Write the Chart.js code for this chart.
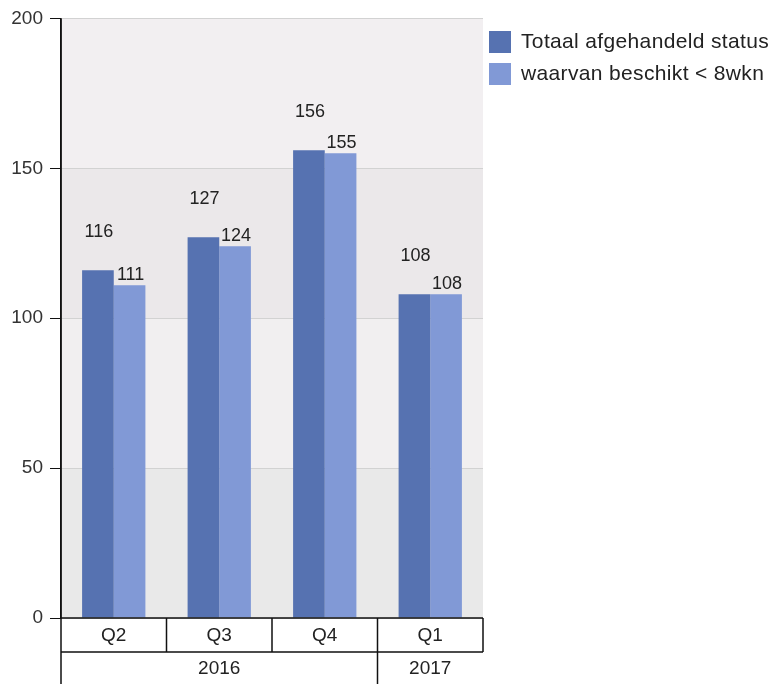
<!DOCTYPE html>
<html>
<head>
<meta charset="utf-8">
<script src="https://cdn.jsdelivr.net/npm/chart.js@4"></script>
<style>
  html, body { margin: 0; padding: 0; background: #fff; }
  #wrap { width: 773px; height: 684px; }
</style>
</head>
<body>
<div id="wrap"><canvas id="chart" width="773" height="684"></canvas></div>
<script>
// data
const quarters = ['Q2', 'Q3', 'Q4', 'Q1'];
const years = ['2016', '2016', '2016', '2017'];
const totaal = [116, 127, 156, 108];
const binnen8wkn = [111, 124, 155, 108];
const yTicks = [0, 50, 100, 150, 200];
const seriesNames = ['Totaal afgehandeld status', 'waarvan beschikt < 8wkn'];

const colors = ['#5672b1', '#8199d6'];
const bandColors = ['#e9e9e9', '#f1eff0', '#ebe8ea', '#f2eff1'];
const FONT = '"Liberation Sans", Arial, sans-serif';

// achtergrondbanden tussen de ticks
const bandsPlugin = {
    id: 'bands',
    beforeDraw(chart) {
        const ctx = chart.ctx, a = chart.chartArea, y = chart.scales.y;
        ctx.save();
        for (let i = 0; i < yTicks.length - 1; i++) {
            const y0 = y.getPixelForValue(yTicks[i]);
            const y1 = y.getPixelForValue(yTicks[i + 1]);
            ctx.fillStyle = bandColors[i % bandColors.length];
            ctx.fillRect(a.left, y1, a.right - a.left, y0 - y1);
        }
        ctx.restore();
    }
};

// waarden boven de staven
const labelsPlugin = {
    id: 'valueLabels',
    afterDatasetsDraw(chart) {
        const ctx = chart.ctx;
        const offsets = [38, 10];
        ctx.save();
        ctx.font = '18px ' + FONT;
        ctx.fillStyle = '#222';
        ctx.textAlign = 'center';
        ctx.textBaseline = 'middle';
        chart.data.datasets.forEach((ds, di) => {
            chart.getDatasetMeta(di).data.forEach((bar, i) => {
                ctx.fillText(String(ds.data[i]), bar.x + 1, bar.y - offsets[di]);
            });
        });
        ctx.restore();
    }
};

// tabel onder de x-as + legenda
const tablePlugin = {
    id: 'axisTable',
    afterDraw(chart) {
        const ctx = chart.ctx, a = chart.chartArea, x = chart.scales.x;
        const top = a.bottom, mid = a.bottom + 34, bot = chart.height;
        const w = (a.right - a.left) / quarters.length;
        ctx.save();
        ctx.strokeStyle = '#111';
        ctx.lineWidth = 1.5;
        ctx.beginPath();
        // as-lijn links
        ctx.moveTo(a.left, a.top); ctx.lineTo(a.left, bot);
        ctx.moveTo(a.left, top); ctx.lineTo(a.right, top);
        ctx.moveTo(a.left, mid); ctx.lineTo(a.right, mid);
        ctx.moveTo(a.right, top); ctx.lineTo(a.right, mid);
        for (let i = 1; i < quarters.length; i++) {
            const ex = a.left + i * w;
            ctx.moveTo(ex, top); ctx.lineTo(ex, mid);
        }
        ctx.stroke();

        ctx.font = '19px ' + FONT;
        ctx.fillStyle = '#222';
        ctx.textAlign = 'center';
        ctx.textBaseline = 'middle';
        quarters.forEach((q, i) => {
            ctx.fillText(q, x.getPixelForValue(i), (top + mid) / 2 + 1);
        });

        // jaren samenvoegen
        let start = 0;
        for (let i = 1; i <= years.length; i++) {
            if (i === years.length || years[i] !== years[start]) {
                const x0 = a.left + start * w, x1 = a.left + i * w;
                ctx.fillText(years[start], (x0 + x1) / 2, (mid + bot) / 2 + 1);
                if (start > 0) {
                    ctx.beginPath();
                    ctx.moveTo(x0, mid); ctx.lineTo(x0, bot);
                    ctx.stroke();
                }
                start = i;
            }
        }

        // legenda
        ctx.font = '21px ' + FONT;
        ctx.letterSpacing = '0.35px';
        ctx.textAlign = 'left';
        ctx.textBaseline = 'alphabetic';
        seriesNames.forEach((name, i) => {
            const ly = 31 + i * 32;
            ctx.fillStyle = colors[i];
            ctx.fillRect(489, ly, 22, 22);
            ctx.fillStyle = '#222';
            ctx.fillText(name, 521, ly + 17);
        });
        ctx.restore();
    }
};

new Chart(document.getElementById('chart'), {
    type: 'bar',
    data: {
        labels: quarters,
        datasets: [
            { label: seriesNames[0], data: totaal, backgroundColor: colors[0] },
            { label: seriesNames[1], data: binnen8wkn, backgroundColor: colors[1] }
        ]
    },
    options: {
        responsive: false,
        animation: false,
        devicePixelRatio: 1,
        barPercentage: 1,
        categoryPercentage: 0.6,
        layout: { padding: { top: 18, right: 290, bottom: 66, left: 0 } },
        plugins: {
            legend: { display: false },
            tooltip: { enabled: false }
        },
        scales: {
            x: { display: false },
            y: {
                min: 0,
                max: 200,
                afterFit(scale) { scale.width = 61; },
                afterBuildTicks(scale) { scale.ticks = yTicks.map(v => ({ value: v })); },
                border: { color: '#111', width: 1.5 },
                grid: { color: '#d2d2d2', tickColor: '#111', tickLength: 11, lineWidth: 1 },
                ticks: { padding: 7, color: '#333', font: { size: 19, family: FONT } }
            }
        }
    },
    plugins: [bandsPlugin, labelsPlugin, tablePlugin]
});
</script>
</body>
</html>
